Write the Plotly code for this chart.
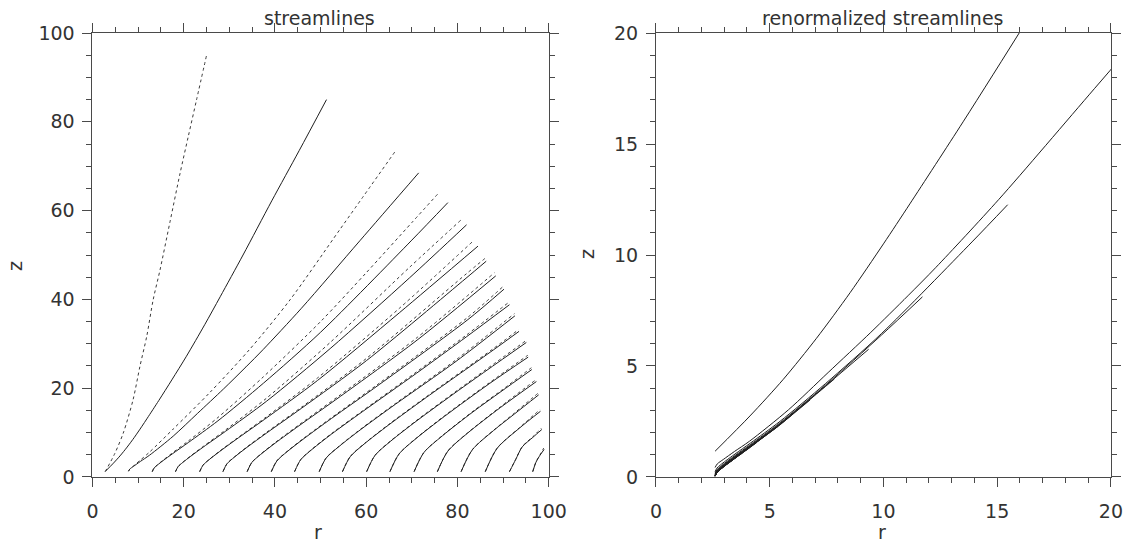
import plotly.graph_objects as go

# ---- streamline data (r, z), one pair of lists per streamline ----
# solid lines
solid_r_01 = [2.8, 4.45, 6.03, 7.60, 9.19, 10.77, 12.02, 14.54, 17.39, 20.6, 24.6, 28.0, 33.0, 39.3, 45.3, 51.3]
solid_z_01 = [1.25, 2.96, 4.74, 6.73, 8.94, 11.31, 13.25, 17.23, 21.86, 27.2, 34.3, 40.6, 50.0, 62.2, 73.5, 85.0]
solid_r_02 = [7.9, 8.2, 9.0, 10.5, 12.5, 17.7, 23.0, 28.7, 33.65, 37.4, 45.8, 58.6, 71.5]
solid_z_02 = [1.3, 1.8, 2.4, 3.5, 4.9, 9.2, 14.3, 19.8, 24.8, 28.7, 38.0, 53.2, 68.5]
solid_r_03 = [13.1, 13.5, 14.25, 15.5, 17.5, 21.0, 27.5, 37.5, 50.0, 70.0, 77.9]
solid_z_03 = [1.2, 2.0, 2.7, 3.7, 5.2, 7.75, 12.65, 21.15, 32.6, 53.35, 61.8]
solid_r_04 = [18.2, 18.76, 19.8, 21.54, 24.31, 29.18, 38.21, 52.1, 69.47, 82.0]
solid_z_04 = [1.2, 2.31, 3.28, 4.67, 6.76, 10.3, 17.11, 28.92, 44.83, 56.8]
solid_r_05 = [23.5, 24.22, 25.56, 27.8, 31.39, 37.67, 49.33, 67.27, 84.5]
solid_z_05 = [1.2, 2.64, 3.89, 5.68, 8.38, 12.95, 21.74, 36.99, 52.0]
solid_r_06 = [28.6, 29.47, 31.11, 33.84, 38.21, 45.85, 60.04, 81.87, 86.3]
solid_z_06 = [1.2, 2.95, 4.47, 6.66, 9.93, 15.5, 26.2, 44.76, 48.6]
solid_r_07 = [33.9, 34.93, 36.87, 40.1, 45.28, 54.33, 71.15, 88.4]
solid_z_07 = [1.2, 3.27, 5.08, 7.67, 11.55, 18.15, 30.83, 45.3]
solid_r_08 = [39.2, 40.4, 42.65, 46.4, 52.37, 62.84, 82.3, 90.2]
solid_z_08 = [1.2, 3.59, 5.69, 8.68, 13.17, 20.8, 35.46, 42.3]
solid_r_09 = [44.3, 45.65, 48.19, 52.4, 59.2, 71.0, 82.0, 91.4]
solid_z_09 = [1.2, 3.9, 6.27, 9.66, 14.73, 23.35, 31.6, 38.8]
solid_r_10 = [49.7, 51.2, 54.07, 58.8, 66.4, 79.7, 92.6]
solid_z_10 = [1.2, 4.24, 6.89, 10.69, 16.38, 26.05, 36.3]
solid_r_11 = [54.8, 56.48, 59.62, 64.85, 73.2, 87.85, 93.5]
solid_z_11 = [1.2, 4.55, 7.48, 11.66, 17.94, 28.6, 32.8]
solid_r_12 = [60.1, 61.94, 65.38, 71.11, 80.29, 95.1]
solid_z_12 = [1.2, 4.87, 8.08, 12.67, 19.55, 30.3]
solid_r_13 = [65.2, 67.2, 70.94, 77.15, 87.1, 95.5]
solid_z_13 = [1.2, 5.18, 8.67, 13.65, 21.1, 27.0]
solid_r_14 = [70.5, 72.65, 76.7, 83.4, 89.5, 96.3]
solid_z_14 = [1.2, 5.51, 9.27, 14.66, 19.2, 24.2]
solid_r_15 = [75.6, 77.9, 82.2, 89.4, 97.3]
solid_z_15 = [1.2, 5.82, 9.86, 15.63, 21.5]
solid_r_16 = [80.8, 83.27, 87.9, 92.5, 97.8]
solid_z_16 = [1.2, 6.13, 10.45, 14.2, 18.5]
solid_r_17 = [86.1, 88.7, 93.65, 98.2]
solid_z_17 = [1.2, 6.46, 11.06, 14.8]
solid_r_18 = [91.4, 92.8, 94.2, 96.5, 98.5]
solid_z_18 = [1.2, 4.0, 6.78, 8.9, 10.7]
solid_r_19 = [96.5, 97.2, 98.1, 99.0]
solid_z_19 = [1.2, 3.3, 4.9, 6.2]

# dotted lines
dot_r_01 = [2.8, 4.9, 6.75, 8.9, 10.4, 11.9, 13.3, 14.8, 17.0, 19.2, 21.0, 22.8, 25.1]
dot_z_01 = [1.2, 5.3, 9.9, 17.4, 24.9, 31.7, 39.9, 46.6, 57.5, 68.4, 76.7, 84.9, 95.4]
dot_r_02 = [7.9, 8.2, 9.0, 10.5, 12.5, 17.7, 25.7, 34.5, 43.3, 54.2, 66.6]
dot_z_02 = [1.3, 1.8, 2.5, 3.8, 5.6, 10.8, 19.0, 28.8, 39.9, 55.7, 73.7]
dot_r_03 = [13.1, 13.5, 14.25, 15.5, 17.5, 21.0, 27.5, 37.5, 50.0, 60.0, 70.0, 76.0]
dot_z_03 = [1.2, 2.0, 2.75, 3.8, 5.4, 8.1, 13.4, 22.6, 35.0, 46.0, 57.3, 64.1]
dot_r_04 = [18.2, 18.76, 19.8, 21.54, 24.31, 29.18, 38.21, 52.1, 69.47, 80.9]
dot_z_04 = [1.2, 2.33, 3.32, 4.75, 6.9, 10.6, 17.8, 30.3, 47.2, 58.0]
dot_r_05 = [23.5, 24.22, 25.56, 27.8, 31.39, 37.67, 49.33, 67.27, 83.4]
dot_z_05 = [1.2, 2.66, 3.93, 5.76, 8.5, 13.2, 22.3, 38.0, 53.1]
dot_r_06 = [28.6, 29.47, 31.11, 33.84, 38.21, 45.85, 60.04, 81.87, 86.0]
dot_z_06 = [1.2, 2.97, 4.52, 6.75, 10.1, 15.75, 26.7, 45.7, 49.2]
dot_r_07 = [33.9, 34.93, 36.87, 40.1, 45.28, 54.33, 71.15, 88.1]
dot_z_07 = [1.2, 3.3, 5.15, 7.8, 11.75, 18.5, 31.4, 46.0]
dot_r_08 = [39.2, 40.4, 42.65, 46.4, 52.37, 62.84, 82.3, 90.0]
dot_z_08 = [1.2, 3.62, 5.75, 8.8, 13.35, 21.1, 36.0, 42.9]
dot_r_09 = [44.3, 45.65, 48.19, 52.4, 59.2, 71.0, 82.0, 91.2]
dot_z_09 = [1.2, 3.93, 6.33, 9.78, 14.9, 23.65, 32.0, 39.3]
dot_r_10 = [49.7, 51.2, 54.07, 58.8, 66.4, 79.7, 92.5]
dot_z_10 = [1.2, 4.27, 6.95, 10.8, 16.55, 26.4, 36.8]
dot_r_11 = [54.8, 56.48, 59.62, 64.85, 73.2, 87.85, 93.4]
dot_z_11 = [1.2, 4.58, 7.54, 11.78, 18.1, 28.9, 33.2]
dot_r_12 = [60.1, 61.94, 65.38, 71.11, 80.29, 95.0]
dot_z_12 = [1.2, 4.9, 8.15, 12.8, 19.75, 30.7]
dot_r_13 = [65.2, 67.2, 70.94, 77.15, 87.1, 95.4]
dot_z_13 = [1.2, 5.2, 8.73, 13.78, 21.3, 27.4]
dot_r_14 = [70.5, 72.65, 76.7, 83.4, 89.5, 96.2]
dot_z_14 = [1.2, 5.53, 9.33, 14.8, 19.4, 24.6]
dot_r_15 = [75.6, 77.9, 82.2, 89.4, 97.2]
dot_z_15 = [1.2, 5.85, 9.92, 15.8, 21.9]
dot_r_16 = [80.8, 83.27, 87.9, 92.5, 97.7]
dot_z_16 = [1.2, 6.16, 10.5, 14.4, 18.9]
dot_r_17 = [86.1, 88.7, 93.65, 98.1]
dot_z_17 = [1.2, 6.5, 11.15, 15.2]
dot_r_18 = [91.4, 92.8, 94.2, 96.5, 98.4]
dot_z_18 = [1.2, 4.05, 6.85, 9.05, 11.0]
dot_r_19 = [96.5, 97.2, 98.1, 98.9]
dot_z_19 = [1.2, 3.35, 5.0, 6.5]

# reference radius to which each streamline's footpoint is rescaled
R_REF = 2.6

solid_lines = [
    (solid_r_01, solid_z_01), (solid_r_02, solid_z_02), (solid_r_03, solid_z_03),
    (solid_r_04, solid_z_04), (solid_r_05, solid_z_05), (solid_r_06, solid_z_06),
    (solid_r_07, solid_z_07), (solid_r_08, solid_z_08), (solid_r_09, solid_z_09),
    (solid_r_10, solid_z_10), (solid_r_11, solid_z_11), (solid_r_12, solid_z_12),
    (solid_r_13, solid_z_13), (solid_r_14, solid_z_14), (solid_r_15, solid_z_15),
    (solid_r_16, solid_z_16), (solid_r_17, solid_z_17), (solid_r_18, solid_z_18),
    (solid_r_19, solid_z_19),
]
dotted_lines = [
    (dot_r_01, dot_z_01), (dot_r_02, dot_z_02), (dot_r_03, dot_z_03),
    (dot_r_04, dot_z_04), (dot_r_05, dot_z_05), (dot_r_06, dot_z_06),
    (dot_r_07, dot_z_07), (dot_r_08, dot_z_08), (dot_r_09, dot_z_09),
    (dot_r_10, dot_z_10), (dot_r_11, dot_z_11), (dot_r_12, dot_z_12),
    (dot_r_13, dot_z_13), (dot_r_14, dot_z_14), (dot_r_15, dot_z_15),
    (dot_r_16, dot_z_16), (dot_r_17, dot_z_17), (dot_r_18, dot_z_18),
    (dot_r_19, dot_z_19),
]

FONT = "DejaVu Sans"
AXIS_COLOR = "#4a4a4a"
TEXT_COLOR = "#333333"
SOLID = dict(color="#1e1e1e", width=1, shape="spline", smoothing=0.8)
DOTTED = dict(color="#3a3a3a", width=1, dash="dot", shape="spline", smoothing=0.8)

fig = go.Figure()

# left panel: streamlines
for r, z in dotted_lines:
    fig.add_trace(go.Scatter(x=r, y=z, mode="lines", xaxis="x", yaxis="y",
                             line=DOTTED, hoverinfo="skip"))
for r, z in solid_lines:
    fig.add_trace(go.Scatter(x=r, y=z, mode="lines", xaxis="x", yaxis="y",
                             line=SOLID, hoverinfo="skip"))

# right panel: each solid streamline rescaled by its footpoint radius
for r, z in solid_lines:
    s = R_REF / r[0]
    fig.add_trace(go.Scatter(x=[v * s for v in r], y=[v * s for v in z],
                             mode="lines", xaxis="x2", yaxis="y2",
                             line=SOLID, hoverinfo="skip"))


def axis(rng, major, minor_step, domain, anchor, standoff):
    return dict(
        range=rng, domain=domain, anchor=anchor, automargin=False,
        tickmode="array", tickvals=major, ticktext=[str(v) for v in major],
        showline=True, linecolor=AXIS_COLOR, linewidth=1, mirror="ticks",
        ticks="outside", ticklen=9, tickwidth=1, tickcolor=AXIS_COLOR,
        showgrid=False, zeroline=False,
        ticklabelstandoff=standoff,
        tickfont=dict(family=FONT, size=19, color=TEXT_COLOR),
        minor=dict(tick0=0, dtick=minor_step, ticks="outside", ticklen=5,
                   tickwidth=1, tickcolor=AXIS_COLOR, showgrid=False),
    )


Y_DOM = [0.1248, 0.9394]
fig.update_layout(
    width=1129, height=545,
    margin=dict(l=0, r=0, t=0, b=0, pad=0, autoexpand=False),
    paper_bgcolor="white", plot_bgcolor="white",
    showlegend=False,
    xaxis=axis([0, 100], [0, 20, 40, 60, 80, 100], 5, [0.0819, 0.486], "y", 8),
    yaxis=axis([0, 100], [0, 20, 40, 60, 80, 100], 5, Y_DOM, "x", 4),
    xaxis2=axis([0, 20], [0, 5, 10, 15, 20], 1, [0.581, 0.984], "y2", 8),
    yaxis2=axis([0, 20], [0, 5, 10, 15, 20], 1, Y_DOM, "x2", 4),
)

labels = [
    ("streamlines", 0.2826, 0.967, 0),
    ("renormalized streamlines", 0.782, 0.967, 0),
    ("r", 0.2817, 0.0239, 0),
    ("r", 0.781, 0.0239, 0),
    ("z", 0.0133, 0.512, -90),
    ("z", 0.520, 0.534, -90),
]
for text, x, y, ang in labels:
    fig.add_annotation(text=text, x=x, y=y, xref="paper", yref="paper",
                       xanchor="center", yanchor="middle", showarrow=False,
                       textangle=ang,
                       font=dict(family=FONT, size=19, color=TEXT_COLOR))

fig.write_html("out.html")
